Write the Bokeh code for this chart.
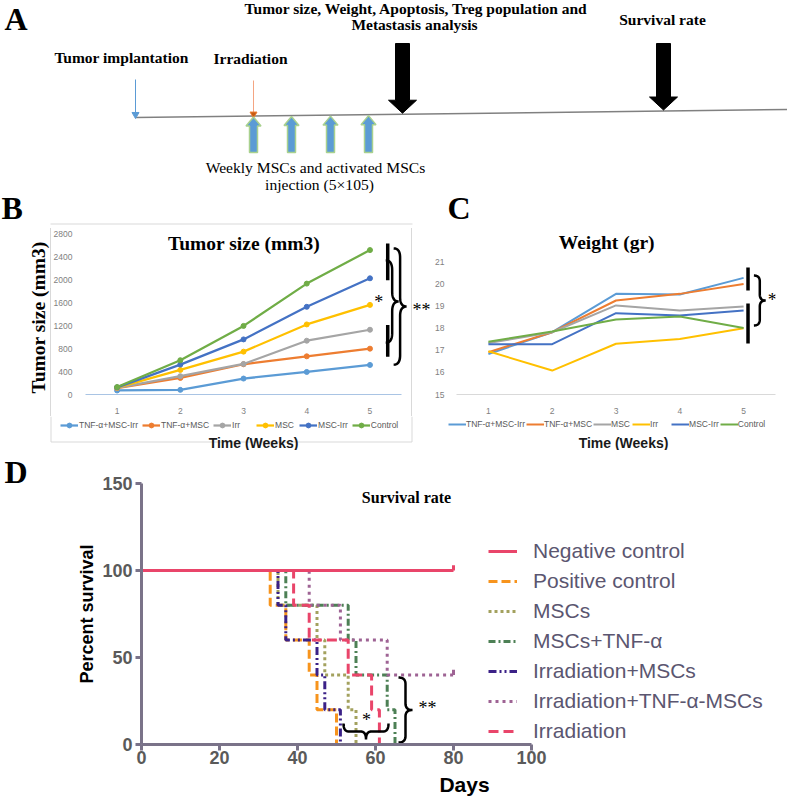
import numpy as np
from bokeh.plotting import figure
from bokeh.models import Range1d, FixedTicker, Label, Legend, LegendItem
from bokeh.layouts import column, row
from bokeh.core.properties import value
from bokeh.embed import file_html
from bokeh.resources import INLINE

SERIF = "Liberation Serif"
SANS = "Liberation Sans"

# ---------------- data ----------------
weeks = [1, 2, 3, 4, 5]

tumor_labels = ["TNF-α+MSC-Irr", "TNF-α+MSC", "Irr", "MSC", "MSC-Irr", "Control"]
tumor_tnf_msc_irr = [70, 81, 279, 395, 517]
tumor_tnf_msc = [110, 290, 529, 668, 802]
tumor_irr = [115, 320, 534, 941, 1133]
tumor_msc = [120, 430, 750, 1226, 1568]
tumor_msc_irr = [125, 523, 964, 1534, 2033]
tumor_control = [130, 600, 1200, 1940, 2527]
tumor_ticks = [0, 400, 800, 1200, 1600, 2000, 2400, 2800]
tumor_colors = ["#5B9BD5", "#ED7D31", "#A5A5A5", "#FFC000", "#4472C4", "#70AD47"]

weight_labels = ["TNF-α+MSC-Irr", "TNF-α+MSC", "MSC", "Irr", "MSC-Irr", "Control"]
weight_tnf_msc_irr = [16.83, 17.81, 19.54, 19.51, 20.26]
weight_tnf_msc = [16.91, 17.81, 19.24, 19.54, 19.99]
weight_msc = [17.32, 17.81, 19.02, 18.79, 18.97]
weight_irr = [16.95, 16.08, 17.29, 17.50, 17.99]
weight_msc_irr = [17.27, 17.27, 18.67, 18.56, 18.79]
weight_control = [17.38, 17.84, 18.38, 18.52, 18.00]
weight_ticks = [15, 16, 17, 18, 19, 20, 21]
weight_colors = ["#5B9BD5", "#ED7D31", "#A5A5A5", "#FFC000", "#4472C4", "#70AD47"]

surv_labels = ["Negative control", "Positive control", "MSCs", "MSCs+TNF-α",
               "Irradiation+MSCs", "Irradiation+TNF-α-MSCs", "Irradiation"]
surv_days_neg = [0, 80]
surv_pct_neg = [100, 100]
surv_days_pos = [0, 33, 37, 43, 45, 50]
surv_pct_pos = [100, 80, 60, 40, 20, 0]
surv_days_msc = [0, 35, 45, 47, 53, 55]
surv_pct_msc = [100, 80, 60, 40, 20, 0]
surv_days_msc_tnf = [0, 37, 53, 55, 63, 65]
surv_pct_msc_tnf = [100, 80, 60, 40, 20, 0]
surv_days_irr_msc = [0, 35, 37, 45, 47, 51]
surv_pct_irr_msc = [100, 80, 60, 40, 20, 0]
surv_days_irr_tnf_msc = [0, 43, 51, 63, 80]
surv_pct_irr_tnf_msc = [100, 80, 60, 40, 40]
surv_days_irr = [0, 39, 43, 53, 59, 61]
surv_pct_irr = [100, 80, 60, 40, 20, 0]
surv_colors = ["#E9456A", "#F7941D", "#A3A15E", "#4D8055", "#3B2187", "#9E6394", "#E9456A"]
surv_dashes = ["solid", "9 4", "3 3", "7 3 2 3", "8 3 2 3 2 3", "3 4", "10 5"]
censor_days = [80, 80]
censor_pct = [100, 40]
censor_colors = ["#E9456A", "#9E6394"]
surv_xticks = [0, 20, 40, 60, 80, 100]
surv_yticks = [0, 50, 100, 150]

# timeline schematic (panel A)
implant_x = 135
irradiation_x = 253
injection_x = [253, 291, 330, 368]
analysis_x = [402, 663]


def brace(a, b, c0, depth, vertical=True, r=0.12):
    t = np.linspace(0, 1, 14)

    def quad(p0, p1, p2):
        u = (1 - t) ** 2 * p0[0] + 2 * (1 - t) * t * p1[0] + t ** 2 * p2[0]
        v = (1 - t) ** 2 * p0[1] + 2 * (1 - t) * t * p1[1] + t ** 2 * p2[1]
        return u, v
    segs = [quad((0, 0), (0, 0.5), (r, 0.5)),
            quad((0.5 - r, 0.5), (0.5, 0.5), (0.5, 1)),
            quad((0.5, 1), (0.5, 0.5), (0.5 + r, 0.5)),
            quad((1 - r, 0.5), (1, 0.5), (1, 0))]
    u = np.concatenate([s[0] for s in segs])
    v = np.concatenate([s[1] for s in segs])
    along = a + u * (b - a)
    across = c0 + v * depth
    if vertical:
        return across, along
    return along, across


def label(p, x, y, text, size, font=SERIF, style="bold", color="black",
          align="center", baseline="middle", angle=0.0):
    p.add_layout(Label(x=x, y=y, text=text, text_font=font, text_font_size=size,
                       text_font_style=style, text_color=color, text_align=align,
                       text_baseline=baseline, angle=angle))


def blank_fig(w, h, x0, x1, y0, y1):
    f = figure(width=w, height=h, x_range=Range1d(x0, x1), y_range=Range1d(y1, y0),
               x_axis_location=None, y_axis_location=None, min_border=0,
               output_backend="svg", toolbar_location=None, frame_align=False)
    f.grid.visible = False
    f.outline_line_color = None
    return f


def txt(p, xs, ys, texts, size, font=SERIF, style="bold", align="center",
        baseline="middle", angle=0.0, color="black"):
    p.text(x=xs, y=ys, text=texts, text_font=value(font), text_font_style=style,
           text_font_size=size, text_align=align, text_baseline=baseline,
           angle=angle, text_color=color)


TOP_B = 228  # page y where the B/C plot row starts

# ---------------- panel A (page coords 0..787 x 0..228) ----------------
pa = blank_fig(787, TOP_B, 0, 787, 0, TOP_B)
txt(pa, [4, 1, 447], [0, 189, 189], ["A", "B", "C"], "32px", align="left", baseline="top")
txt(pa, [416, 414], [8, 24], ["Tumor size, Weight, Apoptosis, Treg population and",
                              "Metastasis analysis"], "15.5px")
txt(pa, [662], [19], ["Survival rate"], "15.5px")
txt(pa, [121, 250], [57, 58], ["Tumor implantation", "Irradiation"], "15.5px")
txt(pa, [315, 319], [167, 184], ["Weekly MSCs and activated MSCs", "injection (5×105)"],
    "15.6px", style="normal")
# top edge of the chart-area box of panel B
pa.line(x=[50, 412], y=[223.5, 223.5], color="#D9D9D9", line_width=1)

tl_x = [implant_x, 787]
tl_y = [117, 109]
pa.line(x=tl_x, y=tl_y, color="#808080", line_width=1.5)


def tl_at(x):
    return float(np.interp(x, tl_x, tl_y))


pa.segment(x0=[implant_x], y0=[79], x1=[implant_x], y1=[tl_at(implant_x) - 4],
           color="#5B9BD5", line_width=1)
pa.scatter(x=[implant_x], y=[tl_at(implant_x) - 3], marker="inverted_triangle", size=7,
           color="#5B9BD5")
pa.segment(x0=[irradiation_x], y0=[80], x1=[irradiation_x], y1=[tl_at(irradiation_x) - 2],
           color="#F4A582", line_width=1)
pa.scatter(x=[irradiation_x], y=[tl_at(irradiation_x) - 2], marker="inverted_triangle", size=7,
           fill_color="#C55A11", line_color="#ED7D31")

bxs, bys = [], []
for c in analysis_x:
    tip = tl_at(c) - 1
    bxs.append([c - 7, c + 7, c + 7, c + 14, c, c - 14, c - 7])
    bys.append([43, 43, tip - 13, tip - 13, tip, tip - 13, tip - 13])
pa.patches(xs=bxs, ys=bys, fill_color="black", line_color="black")

ixs, iys = [], []
for c in injection_x:
    tip = tl_at(c) + 1
    ixs.append([c - 4, c + 4, c + 4, c + 7.5, c, c - 7.5, c - 4])
    iys.append([152, 152, tip + 9, tip + 9, tip, tip + 9, tip + 9])
pa.patches(xs=ixs, ys=iys, fill_color="#5B9BD5", line_color="#A9D18E", line_width=1.5)

ROW_H = 416 - TOP_B

# ---------------- panel B (page 50..412 x 228..416) ----------------
ylab_b = blank_fig(50, ROW_H, 0, 50, TOP_B, 416)
txt(ylab_b, [38], [317], ["Tumor size (mm3)"], "19.5px", angle=np.pi / 2)


def bx(px):
    return 0.5 + (px - 82) / 63.8


def by(py):
    return (395 - py) * 2800 / 161


pb = figure(width=362, height=ROW_H, x_range=Range1d(0.5, bx(411)), y_range=Range1d(0, by(TOP_B)),
            min_border_left=32, min_border_right=1, min_border_top=0, min_border_bottom=21,
            output_backend="svg", toolbar_location=None, frame_align=False,
            styles={"box-shadow": "inset 1px 0 0 0 #D9D9D9, inset -1px 0 0 0 #D9D9D9"})
pb.border_fill_alpha = 0
pb.background_fill_alpha = 0
pb.grid.visible = False
pb.outline_line_color = None
pb.xaxis.ticker = FixedTicker(ticks=weeks)
pb.xaxis.bounds = (0.5, 5.5)
pb.xaxis.axis_line_color = "#A9C4E4"
pb.xaxis.major_tick_line_color = None
pb.xaxis.minor_tick_line_color = None
pb.xaxis.major_label_standoff = 7
pb.yaxis.ticker = FixedTicker(ticks=tumor_ticks)
pb.yaxis.axis_line_color = None
pb.yaxis.major_tick_line_color = None
pb.yaxis.minor_tick_line_color = None
pb.yaxis.major_label_standoff = 7
for ax in (pb.xaxis, pb.yaxis):
    ax.major_label_text_font = SANS
    ax.major_label_text_font_size = "8.5px"
    ax.major_label_text_color = "#7F7F7F"

tumor_series = [tumor_tnf_msc_irr, tumor_tnf_msc, tumor_irr, tumor_msc, tumor_msc_irr, tumor_control]
for vals, col in zip(tumor_series, tumor_colors):
    pb.line(weeks, vals, color=col, line_width=2.25)
    pb.scatter(weeks, vals, size=5, color=col)

pb.segment(x0=[bx(387)] * 2, y0=[by(243), by(325)], x1=[bx(387)] * 2, y1=[by(280), by(357)],
           color="black", line_width=3.5)
xs, ys = brace(by(343), by(260), bx(385), bx(398) - bx(385), vertical=True)
pb.line(xs, ys, color="black", line_width=2.5)
xs, ys = brace(by(365), by(248), bx(393), bx(406) - bx(393), vertical=True, r=0.08)
pb.line(xs, ys, color="black", line_width=2.5)
label(pb, bx(378), by(302), "*", "18px", style="normal")
label(pb, bx(242), by(243), "Tumor size (mm3)", "19.5px")

star_b = blank_fig(20, ROW_H, 412, 432, TOP_B, 416)
txt(star_b, [412], [309], ["**"], "18px", style="normal", align="left")

# ---------------- panel C (page 432..787 x 228..416) ----------------
def cx(px):
    return 0.5 + (px - 450) / 65


def cy(py):
    return 15 + (394 - py) * 6 / 133


pc = figure(width=355, height=ROW_H, x_range=Range1d(0.5, 5.5), y_range=Range1d(15, cy(230)),
            min_border_left=18, min_border_right=12, min_border_top=230 - TOP_B, min_border_bottom=22,
            output_backend="svg", toolbar_location=None, frame_align=False)
pc.grid.visible = False
pc.outline_line_color = None
pc.xaxis.ticker = FixedTicker(ticks=weeks)
pc.xaxis.axis_line_color = "#D9D9D9"
pc.xaxis.major_tick_line_color = None
pc.xaxis.minor_tick_line_color = None
pc.xaxis.major_label_standoff = 7
pc.yaxis.ticker = FixedTicker(ticks=weight_ticks)
pc.yaxis.axis_line_color = None
pc.yaxis.major_tick_line_color = None
pc.yaxis.minor_tick_line_color = None
pc.yaxis.major_label_standoff = 6
for ax in (pc.xaxis, pc.yaxis):
    ax.major_label_text_font = SANS
    ax.major_label_text_font_size = "8.5px"
    ax.major_label_text_color = "#7F7F7F"

weight_series = [weight_tnf_msc_irr, weight_tnf_msc, weight_msc, weight_irr, weight_msc_irr, weight_control]
for vals, col in zip(weight_series, weight_colors):
    pc.line(weeks, vals, color=col, line_width=2)

pc.segment(x0=[cx(747)] * 2, y0=[cy(267), cy(303)], x1=[cx(747)] * 2, y1=[cy(290), cy(343)],
           color="black", line_width=3.5)
xs, ys = brace(cy(325), cy(275), cx(753), cx(765) - cx(753), vertical=True)
pc.line(xs, ys, color="black", line_width=2.5)
label(pc, cx(767), cy(299), "*", "18px", style="normal", align="left")
label(pc, cx(603), cy(242), "Weight (gr)", "19.5px")

# ---------------- legends strip for B and C (page 0..787 x 416..450) ----------------
strip = blank_fig(787, 34, 0, 787, 416, 450)
strip.line(x=[50.5, 50.5, 411.5, 411.5], y=[416, 441.5, 441.5, 416], color="#D9D9D9", line_width=1)
b_items = []
for name, vals, col in zip(tumor_labels, tumor_series, tumor_colors):
    rl = strip.line(weeks, vals, color=col, line_width=2.25, visible=False)
    rs = strip.scatter(weeks, vals, size=5, color=col, visible=False)
    b_items.append(LegendItem(label=name, renderers=[rl, rs]))
strip.add_layout(Legend(items=b_items, orientation="horizontal", location=(60, 19),
                        label_text_font=SANS, label_text_font_size="8.5px",
                        label_text_color="#595959", glyph_width=18, glyph_height=12,
                        label_height=12, label_standoff=1, spacing=4, padding=0, margin=0,
                        border_line_color=None, background_fill_alpha=0,
                        inactive_fill_alpha=0))
c_items = []
for name, vals, col in zip(weight_labels, weight_series, weight_colors):
    rl = strip.line(weeks, vals, color=col, line_width=2, visible=False)
    c_items.append(LegendItem(label=name, renderers=[rl]))
strip.add_layout(Legend(items=c_items, orientation="horizontal", location=(448, 20),
                        label_text_font=SANS, label_text_font_size="8.5px",
                        label_text_color="#595959", glyph_width=18, glyph_height=12,
                        label_height=12, label_standoff=0, spacing=1, padding=0, margin=0,
                        border_line_color=None, background_fill_alpha=0,
                        inactive_fill_alpha=0))
txt(strip, [253, 623], [442, 442], ["Time (Weeks)", "Time (Weeks)"], "14px", font=SANS,
    color="#1A1A1A")

# ---------------- panel D (page 0..787 x 450..806) ----------------
d_left = blank_fig(40, 356, 0, 40, 450, 806)
txt(d_left, [4], [453], ["D"], "32px", align="left", baseline="top")


def dx(px):
    return (px - 141) / 3.9


def dy(py):
    return (744 - py) / 1.74


pd = figure(width=747, height=356, x_range=Range1d(0, dx(787)), y_range=Range1d(0, 150),
            min_border_left=101, min_border_right=0, min_border_top=33, min_border_bottom=62,
            output_backend="svg", toolbar_location=None, frame_align=False)
pd.grid.visible = False
pd.outline_line_color = None
pd.xaxis.ticker = FixedTicker(ticks=surv_xticks)
pd.xaxis.bounds = (0, 100)
pd.yaxis.ticker = FixedTicker(ticks=surv_yticks)
pd.yaxis.bounds = (0, 150)
for ax in (pd.xaxis, pd.yaxis):
    ax.axis_line_color = "#7A7389"
    ax.axis_line_width = 3
    ax.major_tick_line_color = "#7A7389"
    ax.major_tick_line_width = 3
    ax.major_tick_out = 6
    ax.major_tick_in = 0
    ax.minor_tick_line_color = None
    ax.major_label_text_font = SANS
    ax.major_label_text_font_style = "bold"
    ax.major_label_text_font_size = "18px"
    ax.major_label_text_color = "#5A5A5A"
    ax.axis_label_text_font = SANS
    ax.axis_label_text_font_style = "bold"
    ax.axis_label_text_color = "black"
pd.xaxis.major_label_standoff = 0
pd.yaxis.major_label_standoff = 3
pd.xaxis.axis_label = "Days"
pd.xaxis.axis_label_text_font_size = "21px"
pd.xaxis.axis_label_standoff = 6
pd.yaxis.axis_label = "Percent survival"
pd.yaxis.axis_label_text_font_size = "18px"
pd.yaxis.axis_label_standoff = 2

surv_days = [surv_days_neg, surv_days_pos, surv_days_msc, surv_days_msc_tnf,
             surv_days_irr_msc, surv_days_irr_tnf_msc, surv_days_irr]
surv_pcts = [surv_pct_neg, surv_pct_pos, surv_pct_msc, surv_pct_msc_tnf,
             surv_pct_irr_msc, surv_pct_irr_tnf_msc, surv_pct_irr]
renderers = {}
for i in [1, 2, 3, 4, 5, 6, 0]:
    renderers[i] = pd.step(surv_days[i], surv_pcts[i], mode="after", color=surv_colors[i],
                           line_width=3, line_dash=surv_dashes[i])
pd.segment(x0=censor_days, y0=censor_pct, x1=censor_days, y1=[v + 3 for v in censor_pct],
           color=censor_colors, line_width=3)

d_items = [LegendItem(label=name, renderers=[renderers[i]]) for i, name in enumerate(surv_labels)]
leg_d = Legend(items=d_items, location=(488 - 141, 1),
               label_text_font=SANS, label_text_font_size="21px", label_text_color="#5B5670",
               glyph_width=29, glyph_height=24, label_height=24, label_standoff=16, spacing=6,
               padding=0, margin=0, border_line_color=None, background_fill_alpha=0)
pd.add_layout(leg_d)

xs, ys = brace(dx(343), dx(388), dy(723), -(dy(723) - dy(739)), vertical=False, r=0.12)
pd.line(xs, ys, color="black", line_width=2.5)
xs, ys = brace(dy(742), dy(677), dx(398), dx(412) - dx(398), vertical=True, r=0.1)
pd.line(xs, ys, color="black", line_width=2.5)
label(pd, dx(366), dy(719), "*", "18px", style="normal")
label(pd, dx(418), dy(707), "**", "18px", style="normal", align="left")
label(pd, dx(406), dy(497), "Survival rate", "16px")

layout = column(pa, row(ylab_b, pb, star_b, pc), strip, row(d_left, pd))
open("out.html", "w").write(file_html(layout, INLINE))
